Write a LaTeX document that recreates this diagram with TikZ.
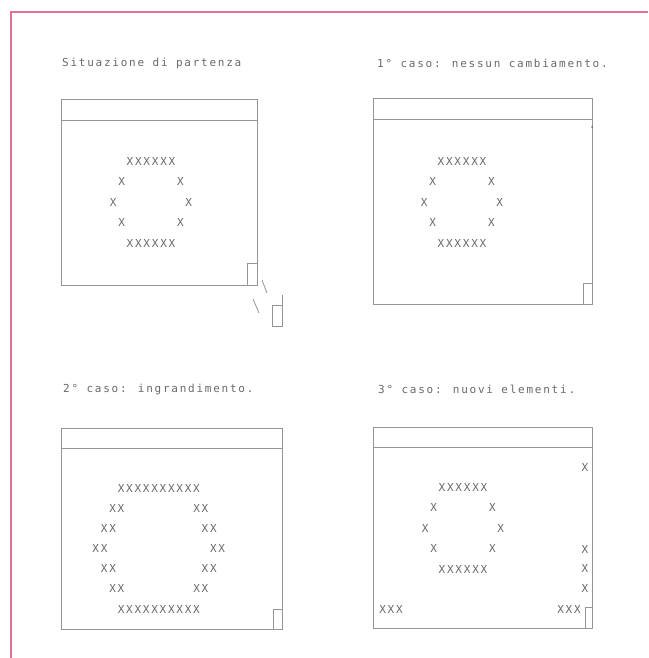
\documentclass[tikz,border=0pt]{standalone}
\usepackage{fontspec}
\newfontfamily\plotfont[LetterSpace=16]{DejaVu Sans Mono}
\definecolor{framepink}{RGB}{226,112,146}
\definecolor{plotgray}{RGB}{150,150,150}
\definecolor{inkgray}{RGB}{105,105,105}

\begin{document}
\begin{tikzpicture}[x=1pt,y=-1pt,
  win/.style={draw=plotgray,line width=0.8pt,outer sep=0pt,inner sep=0pt},
  lbl/.style={font=\plotfont\fontsize{11}{11}\selectfont,text=inkgray,inner sep=0pt},
  title/.style={lbl,anchor=west},
  cell/.style={lbl}]
\useasboundingbox (0,0) rectangle (648,658);
\draw[framepink,line width=1.6pt] (648,12) -- (11,12) -- (11,658);

\node[title] (t1) at (62,63) {Situazione di partenza};
\node[title] (t2) at (377,63) {1° caso: nessun cambiamento.};
\node[title] (t3) at (63,389) {2° caso: ingrandimento.};
\node[title] (t4) at (378,389) {3° caso: nuovi elementi.};

\node[win,minimum width=196,minimum height=186] (w1) at (159,192) {};
\node[win,minimum width=219,minimum height=206] (w2) at (482.5,201) {};
\node[win,minimum width=221,minimum height=201] (w3) at (171.5,528.5) {};
\node[win,minimum width=219,minimum height=201] (w4) at (482.5,527.5) {};

\draw[win] ([yshift=-21]w1.north west) -- ([yshift=-21]w1.north east);
\draw[win] ([yshift=-21]w2.north west) -- ([yshift=-21]w2.north east);
\draw[win] ([yshift=-20]w3.north west) -- ([yshift=-20]w3.north east);
\draw[win] ([yshift=-20]w4.north west) -- ([yshift=-20]w4.north east);

\draw[win] ([xshift=-10]w1.south east) |- ([yshift=22]w1.south east);
\draw[win] ([xshift=-9]w2.south east) |- ([yshift=21]w2.south east);
\draw[win] ([xshift=-9]w3.south east) |- ([yshift=20]w3.south east);
\draw[win] ([xshift=-7]w4.south east) |- ([yshift=21]w4.south east);
\fill[inkgray] ([yshift=-29]w2.north east) circle (1pt);

\draw[win] (262,280) -- (267,293);
\draw[win] (253,299) -- (259,313);
\draw[win] (272,305) rectangle (282,326);
\draw[win] (282,305) -- (282,295);

\foreach \p/\cx/\cy in {a/151/161,b/462/161,d/463/487} {
  \node[cell] (\p1) at (\cx,\cy) {XXXXXX};
  \node[cell] (\p5) at (\cx,\cy+82.4) {XXXXXX};
  \foreach \n/\d in {2/1,3/2,4/1} {
    \node[cell] (\p\n l) at ({\cx-(2.5+\d)*8.4},{\cy+(\n-1)*20.6}) {X};
    \node[cell] (\p\n r) at ({\cx+(2.5+\d)*8.4},{\cy+(\n-1)*20.6}) {X};
  }
}

\node[cell] (c1) at (158.8,488) {XXXXXXXXXX};
\node[cell] (c7) at (158.8,609) {XXXXXXXXXX};
\foreach \n/\d in {2/1,3/2,4/3,5/2,6/1} {
  \node[cell] (c\n l) at ({158.8-(4+\d)*8.4},{488+(\n-1)*20.17}) {XX};
  \node[cell] (c\n r) at ({158.8+(4+\d)*8.4},{488+(\n-1)*20.17}) {XX};
}

\node[cell] (d0) at (585,467) {X};
\node[cell] (d6) at (585,549) {X};
\node[cell] (d7) at (585,568) {X};
\node[cell] (d8) at (585,588) {X};
\node[cell] (d9l) at (391,609) {XXX};
\node[cell] (d9r) at (569,609) {XXX};
\end{tikzpicture}
\end{document}
